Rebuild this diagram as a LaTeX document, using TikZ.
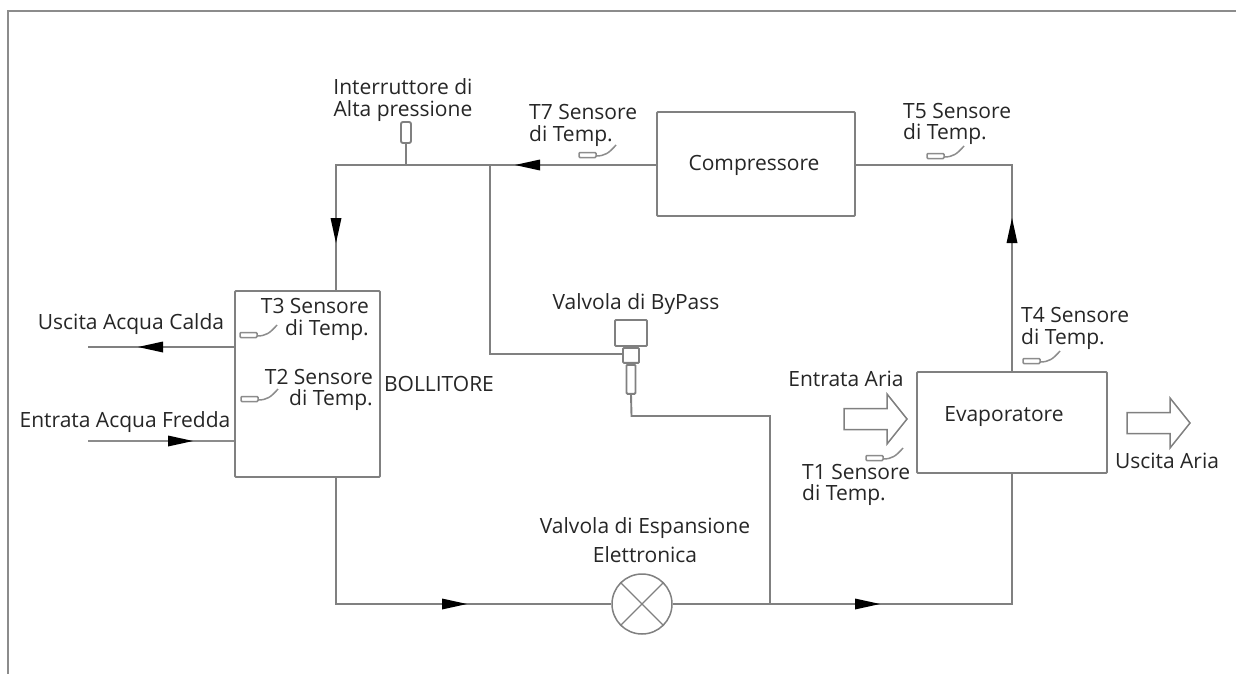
\documentclass[tikz,border=0pt]{standalone}
\usepackage{fontspec}
\setmainfont{Open Sans}
\newcommand{\FL}{\fontsize{21}{21.5}\selectfont}

\begin{document}
\begin{tikzpicture}[x=1pt,y=-1pt]
\tikzstyle{texto}=[draw=none,fill=none,black!85,font=\FL,inner sep=0pt]
\tikzstyle{pipe}=[black!50,line width=1.9pt]
\tikzstyle{thin pipe}=[black!45,line width=1.5pt]
\tikzstyle{blocco}=[draw=black!50,line width=1.9pt,fill=none,rounded corners=1pt,inner sep=0pt]
\tikzset{
  flusso/.pic={\fill[black] (0,0) -- (-25,-5.5) -- (-25,5.5) -- cycle;},
  sensore/.pic={\draw[thin pipe,rounded corners=1pt] (0,-2.5) rectangle (17,2.5);
    \draw[thin pipe] (17,1) .. controls (26,1) and (30,-2) .. (37,-10);},
  aria/.pic={\draw[black!50,line width=1.5pt,line join=miter] (0,-10.5) -- (43,-10.5) -- (43,-25) -- (63,0) -- (43,25) -- (43,10.5) -- (0,10.5) -- cycle;}
}

\useasboundingbox (0,0) rectangle (1236,674);
\fill[white] (0,0) rectangle (1236,674);
\coordinate (fTL) at (8,11);
\coordinate (fTR) at (1236,11);
\coordinate (fBL) at (8,674);
\draw[thin pipe] (fTR) -- (fTL) -- (fBL);

\node[blocco,minimum width=145pt,minimum height=186pt] (bollitore) at (307.5,384) {};
\node[blocco,minimum width=198pt,minimum height=104pt] (compressore) at (756,164) {};
\node[blocco,minimum width=190pt,minimum height=101pt] (evaporatore) at (1012,422.5) {};
\node[blocco,minimum width=32pt,minimum height=26pt] (bypass) at (631,333) {};
\node[blocco,minimum width=16pt,minimum height=15pt,anchor=north] (bypassM) at (bypass.south) {};
\node[blocco,minimum width=9pt,minimum height=29pt,anchor=north] (bypassB) at (bypassM.south) {};
\node[blocco,minimum width=10pt,minimum height=21pt,rounded corners=2pt] (pressostato) at (406,132.5) {};
\node[draw=black!50,line width=1.5pt,circle,minimum size=60pt,inner sep=0pt] (espansione) at (642,604) {};

\coordinate (aTL) at (336,165);
\coordinate (aBy) at (490,165);
\coordinate (aPr) at (406,165);
\coordinate (aTR) at (1012,165);
\coordinate (aBL) at (336,604);
\coordinate (aBR) at (1012,604);
\coordinate (aJn) at (770,604);
\coordinate (aV1) at (631.5,416);
\coordinate (aV2) at (770,416);
\coordinate (aBy2) at (490,354);
\coordinate (uA) at (88,347);
\coordinate (eA) at (88,441);

\draw[pipe] (compressore.west |- aTL) -- (aTL) -- (aTL |- bollitore.north);
\draw[pipe] (compressore.east |- aTR) -- (aTR) -- (aTR |- evaporatore.north);
\draw[pipe] (aTL |- bollitore.south) -- (aBL) -- (espansione);
\draw[pipe] (espansione) -- (aBR) -- (aBR |- evaporatore.south);
\draw[pipe] (aBy) -- (aBy2) -- (aBy2 -| bypassM.west);
\draw[pipe] (bypassB.south) -- (aV1) -- (aV2) -- (aJn);
\draw[pipe] (pressostato.south) -- (aPr);
\draw[pipe] (uA) -- (uA -| bollitore.west);
\draw[thin pipe] (eA) -- (eA -| bollitore.west);
\draw[black!50,line width=1.3pt] (espansione.45) -- (espansione.225);
\draw[black!50,line width=1.3pt] (espansione.135) -- (espansione.315);

\pic at (467,604) {flusso};
\pic at (880,604) {flusso};
\pic[rotate=-90] at (336,243) {flusso};
\pic[rotate=90] at (1012,218) {flusso};
\pic[rotate=180] at (515,165) {flusso};
\pic[rotate=180] at (138,347) {flusso};
\pic at (193,441) {flusso};

\pic at (240,335) {sensore};
\pic at (241,399) {sensore};
\pic at (579,155) {sensore};
\pic at (927,156) {sensore};
\pic at (1023,361) {sensore};
\pic at (866,458) {sensore};

\pic at (844,419) {aria};
\pic at (1127,423) {aria};

\node[texto,align=center] (lblPress) at (403,100) {Interruttore di\\Alta pressione};
\node[texto,align=left,anchor=west] (lblT7) at (529,125.5) {T7 Sensore\\di Temp.};
\node[texto,align=left,anchor=west] (lblT5) at (903,124) {T5 Sensore\\di Temp.};
\node[texto,align=left,anchor=west] (lblT4) at (1021,328.5) {T4 Sensore\\di Temp.};
\node[texto,align=right,anchor=east] (lblT3) at (369,319.5) {T3 Sensore\\di Temp.};
\node[texto,align=right,anchor=east] (lblT2) at (373,390) {T2 Sensore\\di Temp.};
\node[texto,align=left,anchor=west] (lblT1) at (802,485) {T1 Sensore\\di Temp.};
\node[texto] (lblBoll) at (439,384) {BOLLITORE};
\node[texto] (lblComp) at (754,165) {Compressore};
\node[texto] (lblEvap) at (1004,417) {Evaporatore};
\node[texto] (lblEA) at (846,379) {Entrata Aria};
\node[texto] (lblUA) at (1167,461) {Uscita Aria};
\node[texto] (lblCalda) at (131,324) {Uscita Acqua Calda};
\node[texto] (lblFredda) at (125,422) {Entrata Acqua Fredda};
\node[texto] (lblByp) at (636,304) {Valvola di ByPass};
\node[texto,align=center,font=\fontsize{21}{29}\selectfont] (lblEsp) at (645,540) {Valvola di Espansione\\Elettronica};
\end{tikzpicture}
\end{document}
